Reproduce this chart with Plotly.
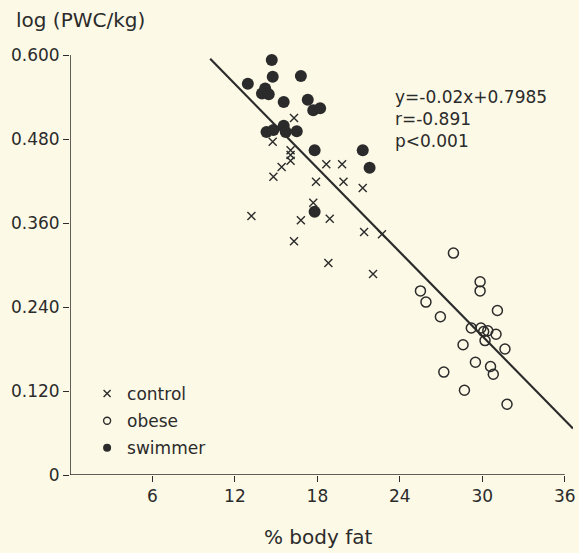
import plotly.graph_objects as go

# % body fat and log(PWC/kg) for each group
control_x = [16.3, 14.75, 16.05, 16.05, 16.05, 15.4, 14.8, 18.65, 19.8, 17.9, 19.9, 21.3,
             17.7, 13.2, 16.8, 18.9, 16.3, 21.4, 22.7, 18.8, 22.05]
control_y = [0.510, 0.476, 0.464, 0.457, 0.449, 0.440, 0.426, 0.444, 0.444, 0.419, 0.419, 0.410,
             0.389, 0.370, 0.364, 0.366, 0.334, 0.347, 0.344, 0.303, 0.287]

obese_x = [27.9, 29.84, 29.84, 25.5, 25.9, 31.1, 26.95, 29.2, 29.9, 30.1, 30.4, 31.0,
           30.2, 28.6, 31.65, 29.5, 30.6, 30.8, 27.2, 28.7, 31.8]
obese_y = [0.317, 0.276, 0.263, 0.263, 0.247, 0.235, 0.226, 0.210, 0.210, 0.205, 0.206, 0.201,
           0.192, 0.186, 0.180, 0.161, 0.155, 0.144, 0.147, 0.121, 0.101]

swimmer_x = [14.68, 14.75, 16.8, 12.94, 14.2, 13.97, 14.46, 15.55, 17.3, 17.7, 18.2,
             14.3, 14.8, 15.55, 15.7, 16.5, 17.8, 21.3, 21.8, 17.8]
swimmer_y = [0.593, 0.569, 0.570, 0.559, 0.552, 0.545, 0.544, 0.533, 0.536, 0.521, 0.524,
             0.490, 0.493, 0.499, 0.490, 0.491, 0.464, 0.464, 0.439, 0.376]

slope = -0.02
intercept = 0.7985
line_x = [10.2, 36.6]
line_y = [slope * v + intercept for v in line_x]

x_ticks = [6, 12, 18, 24, 30, 36]
y_ticks = [0, 0.12, 0.24, 0.36, 0.48, 0.6]
y_tick_labels = ["0", "0.120", "0.240", "0.360", "0.480", "0.600"]

ink = "#2b2b2b"
bg = "#fcf9e6"
font = "DejaVu Sans"

fig = go.Figure()
fig.add_trace(go.Scatter(x=line_x, y=line_y, mode="lines", line=dict(color=ink, width=2.2),
                         showlegend=False, hoverinfo="skip"))
fig.add_trace(go.Scatter(x=control_x, y=control_y, mode="markers", name="control",
                         showlegend=False,
                         marker=dict(symbol="x-thin", size=8, line=dict(color=ink, width=1.4), color=ink)))
fig.add_trace(go.Scatter(x=obese_x, y=obese_y, mode="markers", name="obese", showlegend=False,
                         marker=dict(symbol="circle-open", size=10, color=ink, line=dict(width=1.5))))
fig.add_trace(go.Scatter(x=swimmer_x, y=swimmer_y, mode="markers", name="swimmer", showlegend=False,
                         marker=dict(symbol="circle", size=12, color=ink)))

# legend entries (small symbols as in the original key)
fig.add_trace(go.Scatter(x=[None], y=[None], mode="markers", name="control", legendgroup="a",
                         marker=dict(symbol="x-thin", size=7, line=dict(color=ink, width=1.4), color=ink)))
fig.add_trace(go.Scatter(x=[None], y=[None], mode="markers", name="obese", legendgroup="b",
                         marker=dict(symbol="circle-open", size=7, color=ink, line=dict(width=1.4))))
fig.add_trace(go.Scatter(x=[None], y=[None], mode="markers", name="swimmer", legendgroup="c",
                         marker=dict(symbol="circle", size=8, color=ink)))

fig.update_layout(
    width=579, height=553,
    margin=dict(l=70, r=3, t=41, b=78),
    paper_bgcolor=bg, plot_bgcolor=bg,
    font=dict(family=font, color=ink, size=17),
    legend=dict(x=0.034, y=0.228, xanchor="left", yanchor="top", bgcolor="rgba(0,0,0,0)",
                font=dict(size=17, family=font, color=ink), itemsizing="trace",
                tracegroupgap=2, traceorder="grouped"),
    xaxis=dict(range=[0, 36.6], tickvals=x_ticks, ticks="outside", ticklen=6, tickwidth=1.3,
               tickcolor=ink, showgrid=False, zeroline=False, showline=False,
               tickfont=dict(size=17, family=font, color=ink)),
    yaxis=dict(range=[0, 0.62], tickvals=y_ticks, ticktext=y_tick_labels, ticks="outside",
               ticklen=6, tickwidth=1.3, tickcolor=ink, showgrid=False, zeroline=False,
               showline=False, tickfont=dict(size=17, family=font, color=ink)),
    showlegend=True,
)

# axis lines
fig.add_shape(type="line", xref="x", yref="y", x0=0, x1=36, y0=0, y1=0,
              line=dict(color=ink, width=1.5))
fig.add_shape(type="line", xref="x", yref="y", x0=0, x1=0, y0=0, y1=0.6,
              line=dict(color=ink, width=1.5))

fig.add_annotation(text="log (PWC/kg)", xref="paper", yref="paper", x=-0.111, y=1.048,
                   xanchor="left", yanchor="middle", showarrow=False, font=dict(size=20))
fig.add_annotation(text="% body fat", xref="paper", yref="paper", x=0.494, y=-0.143,
                   xanchor="center", yanchor="middle", showarrow=False, font=dict(size=20))
fig.add_annotation(text="y=-0.02x+0.7985<br>r=-0.891<br>p<0.001", xref="paper", yref="paper",
                   x=0.642, y=0.899, xanchor="left", yanchor="top", align="left",
                   showarrow=False, font=dict(size=17))

fig.write_html(
    "out.html",
    config={"displayModeBar": False},
    post_script="document.body.style.margin='0';document.body.style.background='#fcf9e6';",
)
